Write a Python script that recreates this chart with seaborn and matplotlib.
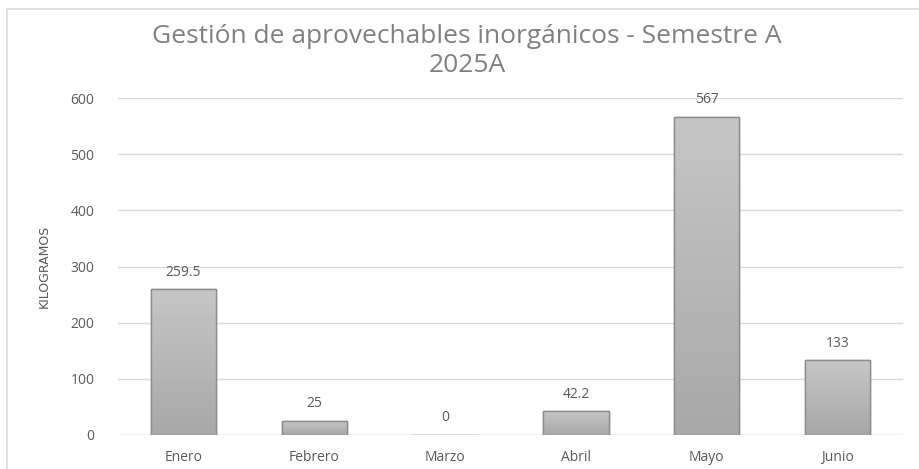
import matplotlib
matplotlib.use("Agg")
import matplotlib.pyplot as plt
import seaborn as sns
import numpy as np
import pandas as pd
from matplotlib.patches import Rectangle
from matplotlib.colors import LinearSegmentedColormap

months = ["Enero", "Febrero", "Marzo", "Abril", "Mayo", "Junio"]
kilos = [259.5, 25, 0, 42.2, 567, 133]
labels = ["259.5", "25", "0", "42.2", "567", "133"]
yticks = [0, 100, 200, 300, 400, 500, 600]

sns.set_theme(style="white")
plt.rcParams['font.family'] = ['Open Sans', 'DejaVu Sans']

fig = plt.figure(figsize=(9.19, 4.69), dpi=100)
ax = fig.add_axes([118/919, 1-435/469, (903-118)/919, (435-98)/469])

df = pd.DataFrame({"mes": months, "kg": kilos})
sns.barplot(data=df, x="mes", y="kg", ax=ax, color="#b8b8b8", width=0.5,
            edgecolor="#8c8c8c", linewidth=1.0, zorder=3)

# gradient fill inside each bar
grad = np.linspace(0, 1, 256).reshape(-1, 1)
cmap = LinearSegmentedColormap.from_list("g", ["#a8a8a8", "#c6c6c6"])
for p in list(ax.patches):
    x0, y0 = p.get_x(), p.get_y()
    w, h = p.get_width(), p.get_height()
    if h <= 0:
        continue
    im = ax.imshow(grad, extent=[x0, x0 + w, y0, y0 + h], origin="lower",
                   aspect="auto", cmap=cmap, zorder=3.5)
    im.set_clip_path(p)
    r = Rectangle((x0, y0), w, h, fill=False, edgecolor="#8c8c8c", linewidth=1.0, zorder=4)
    ax.add_patch(r)

ax.set_xlim(-0.5, 5.5)
ax.set_ylim(0, 600)
ax.set_yticks(yticks)
ax.set_yticklabels([str(t) for t in yticks])
ax.yaxis.grid(True, color="#d9d9d9", linewidth=1.0, zorder=0)
ax.set_axisbelow(True)
for s in ax.spines.values():
    s.set_visible(False)
ax.axhline(0, color="#d9d9d9", linewidth=1.0, zorder=2)
ax.tick_params(axis="both", length=0, labelsize=10, colors="#595959")
ax.tick_params(axis="y", pad=17)
ax.tick_params(axis="x", pad=19)
for t in ax.get_xticklabels():
    t.set_verticalalignment("baseline")
ax.set_xlabel("")
ax.set_ylabel("KILOGRAMOS", fontsize=9, color="#595959", labelpad=14,
              family=['Liberation Sans Narrow', 'DejaVu Sans'])

for i, (v, lab) in enumerate(zip(kilos, labels)):
    ax.annotate(lab, (i, v), xytext=(0, 7), textcoords="offset points",
                ha="center", va="bottom", fontsize=10, color="#595959")

fig.text(467/919, 1-43/469, "Gestión de aprovechables inorgánicos - Semestre A",
         ha="center", va="baseline", fontsize=19, color="#808080")
fig.text(467/919, 1-72/469, "2025A", ha="center", va="baseline", fontsize=19, color="#808080")

# chart area border (left and top)
fig.add_artist(plt.Line2D([7/919, 7/919], [0, 1-9/469], transform=fig.transFigure, color="#d9d9d9", linewidth=1.2))
fig.add_artist(plt.Line2D([7/919, 1], [1-9/469, 1-9/469], transform=fig.transFigure, color="#d9d9d9", linewidth=1.2))

fig.savefig("out.png", dpi=100)
